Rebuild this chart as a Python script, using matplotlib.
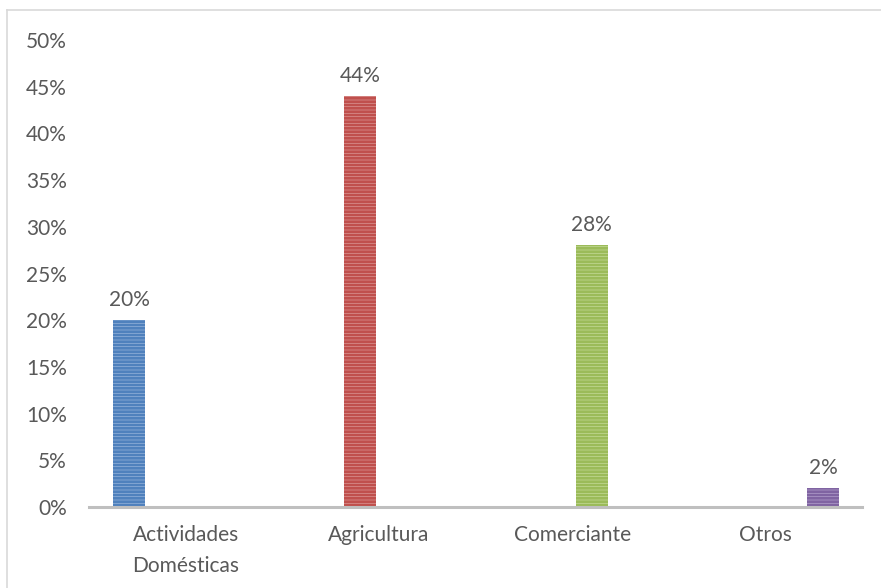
import matplotlib
matplotlib.use("Agg")
import matplotlib.pyplot as plt
from matplotlib.lines import Line2D
import numpy as np

categories = ["Actividades\nDomésticas", "Agricultura", "Comerciante", "Otros"]
values = [0.20, 0.44, 0.28, 0.02]
labels = ["20%", "44%", "28%", "2%"]
y_ticks = [0.0, 0.05, 0.10, 0.15, 0.20, 0.25, 0.30, 0.35, 0.40, 0.45, 0.50]

face_colors = ["#a6c0e2", "#e2a5a4", "#cfe1a8", "#bfaed6"]
stripe_colors = ["#4f81bd", "#c0504d", "#9bbb59", "#8064a2"]
series_offsets = [-0.293, -0.096, 0.101, 0.298]

plt.rcParams["font.family"] = ["Lato", "DejaVu Sans"]
plt.rcParams["hatch.linewidth"] = 2.0
text_color = "#595959"
fs = 15

fig = plt.figure(figsize=(8.81, 5.88), dpi=100)
ax = fig.add_axes([89 / 881, 1 - 507 / 588, (862 - 89) / 881, (507 - 40) / 588])

x = np.arange(len(categories))
for i, (v, lab) in enumerate(zip(values, labels)):
    xi = x[i] + series_offsets[i]
    ax.bar(xi, v, width=0.166, color=face_colors[i], edgecolor=stripe_colors[i],
           linewidth=0, hatch="-----", zorder=2)
    ax.text(xi, v + 0.011, lab, ha="center", va="bottom", fontsize=fs, color=text_color)

ax.set_xlim(-0.5, len(categories) - 0.5)
ax.set_ylim(0, 0.5)
ax.set_yticks(y_ticks)
ax.set_yticklabels([f"{int(round(t * 100))}%" for t in y_ticks])
ax.set_xticks(x)
ax.set_xticklabels(categories, linespacing=1.7)
ax.tick_params(axis="y", length=0, pad=16, labelsize=fs, labelcolor=text_color)
ax.tick_params(axis="x", length=0, pad=13, labelsize=fs, labelcolor=text_color)
for lbl in ax.get_xticklabels():
    lbl.set_verticalalignment("top")

for side in ["top", "right", "left"]:
    ax.spines[side].set_visible(False)
ax.spines["bottom"].set_color("#bfbfbf")
ax.spines["bottom"].set_linewidth(2.2)

# outer chart frame (top and left edges)
fig.add_artist(Line2D([7 / 881, 7 / 881], [0, 1 - 10 / 588], color="#d9d9d9", lw=1.2,
                      transform=fig.transFigure))
fig.add_artist(Line2D([7 / 881, 1], [1 - 10 / 588, 1 - 10 / 588], color="#d9d9d9", lw=1.2,
                      transform=fig.transFigure))

fig.savefig("out.png", dpi=100, facecolor="white")
